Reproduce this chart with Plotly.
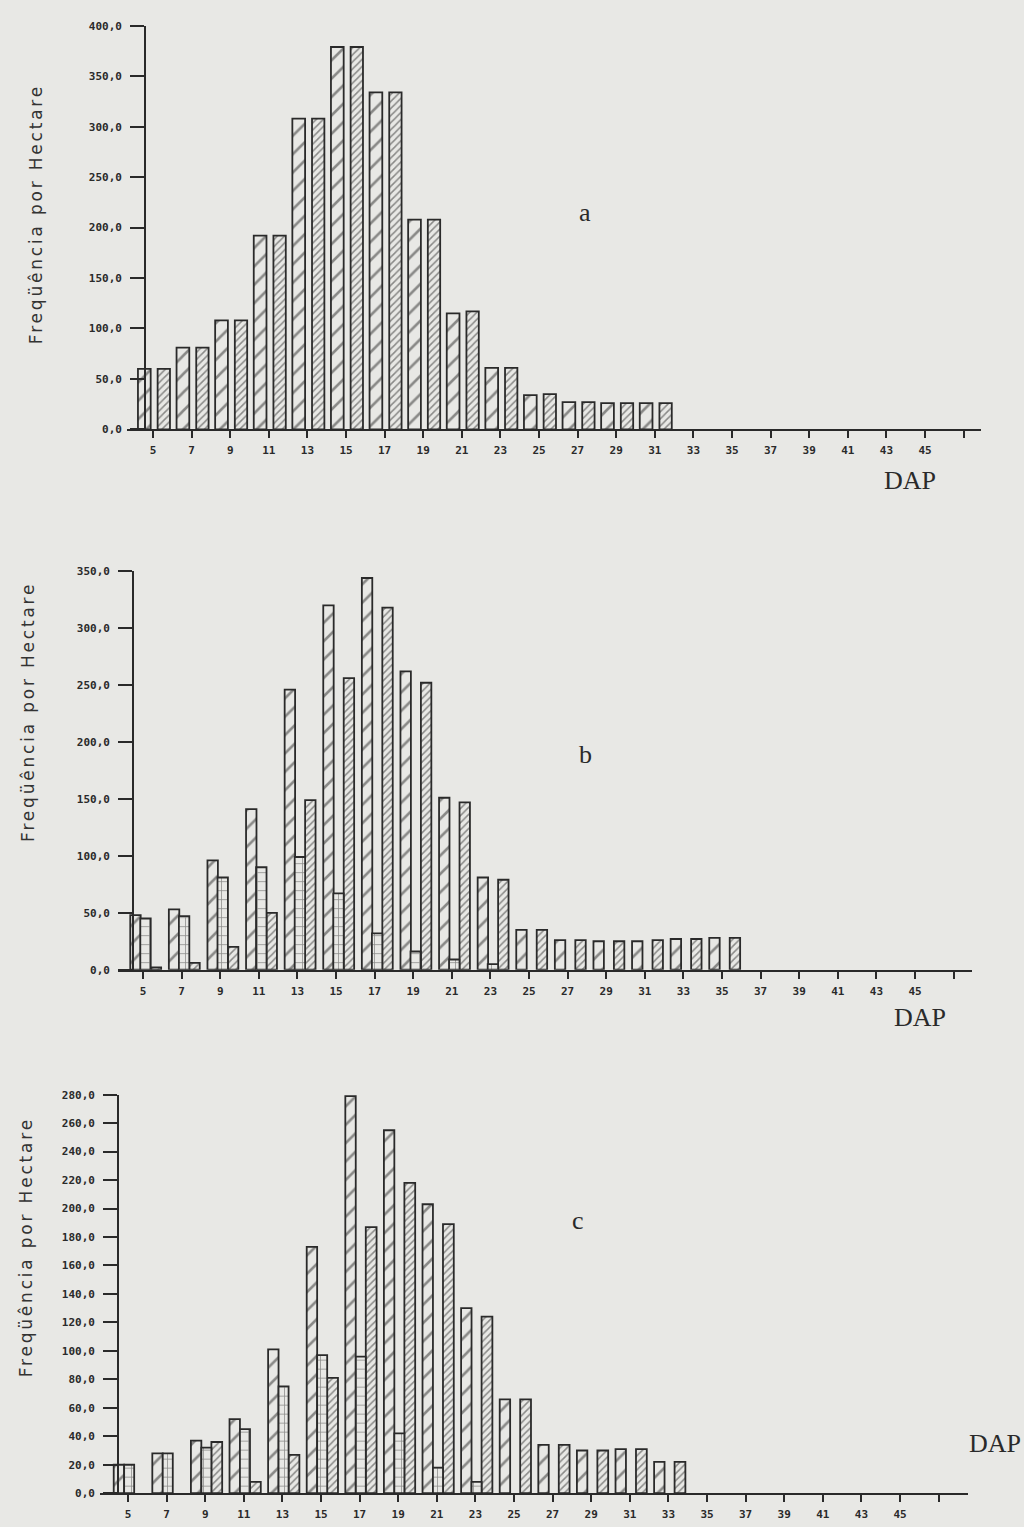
import plotly.graph_objects as go

# DAP classes (cm) shown on the horizontal axis
dap = [5, 7, 9, 11, 13, 15, 17, 19, 21, 23, 25, 27, 29, 31, 33, 35, 37, 39, 41, 43, 45]
dap_ticks = dap + [47]
dap_labels = [str(d) for d in dap] + [""]

# Panel a: frequency per hectare (two series)
a_s1 = [60, 81, 108, 192, 308, 379, 334, 208, 115, 61, 34, 27, 26, 26,
        None, None, None, None, None, None, None]
a_s3 = [60, 81, 108, 192, 308, 379, 334, 208, 117, 61, 35, 27, 26, 26,
        None, None, None, None, None, None, None]

# Panel b: frequency per hectare (three series)
b_s1 = [48, 53, 96, 141, 246, 320, 344, 262, 151, 81, 35, 26, 25, 25, 27, 28,
        None, None, None, None, None]
b_s2 = [45, 47, 81, 90, 99, 67, 32, 16, 9, 5, None, None, None, None, None, None,
        None, None, None, None, None]
b_s3 = [2, 6, 20, 50, 149, 256, 318, 252, 147, 79, 35, 26, 25, 26, 27, 28,
        None, None, None, None, None]

# Panel c: frequency per hectare (three series)
c_s1 = [20, 28, 37, 52, 101, 173, 279, 255, 203, 130, 66, 34, 30, 31, 22,
        None, None, None, None, None, None]
c_s2 = [20, 28, 32, 45, 75, 97, 96, 42, 18, 8, None, None, None, None, None,
        None, None, None, None, None, None]
c_s3 = [None, None, 36, 8, 27, 81, 187, 218, 189, 124, 66, 34, 30, 31, 22,
        None, None, None, None, None, None]

a_yticks = [0, 50, 100, 150, 200, 250, 300, 350, 400]
b_yticks = [0, 50, 100, 150, 200, 250, 300, 350]
c_yticks = list(range(0, 281, 20))


def fmt(v):
    return f"{v:.1f}".replace(".", ",")


W, H = 1024, 1527
PAPER = "#e8e8e5"
INK = "#2a2a2a"
TICKFONT = dict(family="DejaVu Sans Mono", size=11, color=INK, weight="bold")


def px(x):
    return x / W


def py(y):
    return 1 - y / H


fig = go.Figure()

# (xaxis id, yaxis id, x pixel span, y pixel span, y-axis pixel, first tick px, ymax, yticks)
panels = [
    ("x", "y", (127, 981), (427, 20), 145, 153, 400, a_yticks),
    ("x2", "y2", (118, 972), (972, 570), 133, 143, 350, b_yticks),
    ("x3", "y3", (100, 968), (1500, 1098), 118, 128, 280, c_yticks),
]
UNIT = 19.3  # pixels per DAP unit

series = [
    [(a_s1, -0.78, 0.66, "/", 13, 0.2), (a_s3, 0.24, 0.64, "/", 5, 0.3)],
    [(b_s1, -0.66, 0.54, "/", 13, 0.2), (b_s3, 0.40, 0.54, "/", 5, 0.3),
     (b_s2, -0.14, 0.54, "+", 9, 0.16)],
    [(c_s1, -0.74, 0.54, "/", 13, 0.2), (c_s3, 0.32, 0.56, "/", 5, 0.3),
     (c_s2, -0.20, 0.52, "+", 9, 0.16)],
]

layout = {}
for i, (xa, ya, (xl, xr), (yb, yt), yax_px, first_px, ymax, yt_vals) in enumerate(panels):
    x0 = 5 - (first_px - xl) / UNIT
    x1 = 5 + (xr - first_px) / UNIT
    for vals, off, wid, shape, size, sol in series[i]:
        fig.add_trace(go.Bar(
            x=dap, y=vals, xaxis=xa, yaxis=ya,
            offset=off, width=wid,
            marker=dict(
                color=PAPER,
                line=dict(color=INK, width=1.8),
                pattern=dict(shape=shape, size=size, solidity=sol,
                             fgcolor=INK, bgcolor=PAPER, fillmode="overlay"),
            ),
            showlegend=False, hoverinfo="skip",
        ))
    xkey = "xaxis" if xa == "x" else "xaxis" + xa[1:]
    ykey = "yaxis" if ya == "y" else "yaxis" + ya[1:]
    layout[xkey] = dict(
        domain=[px(xl), px(xr)], range=[x0, x1], anchor=ya,
        showline=True, linecolor=INK, linewidth=1.8,
        ticks="outside", ticklen=7, tickwidth=1.8, tickcolor=INK,
        tickvals=dap_ticks, ticktext=dap_labels, tickfont=TICKFONT,
        ticklabelstandoff=3,
        showgrid=False, zeroline=False, fixedrange=True,
    )
    layout[ykey] = dict(
        domain=[py(yb), py(yt)], range=[0, ymax], anchor="free",
        position=px(yax_px),
        showline=True, linecolor=INK, linewidth=1.8,
        ticks="outside", ticklen=14, tickwidth=1.8, tickcolor=INK,
        tickvals=yt_vals, ticktext=[fmt(v) for v in yt_vals], tickfont=TICKFONT,
        ticklabelstandoff=6,
        showgrid=False, zeroline=False, fixedrange=True,
    )

ytitle = "<span style='letter-spacing:2.8px'>Freqüência por Hectare</span>"
annotations = []
for (tx, ty) in [(36, 210), (28, 712), (26, 1252)]:
    annotations.append(dict(
        text=ytitle, x=px(tx), y=py(ty), xref="paper", yref="paper",
        showarrow=False, textangle=-90,
        font=dict(family="DejaVu Sans", size=17, color="#333333"),
        xanchor="center", yanchor="middle",
    ))
for (txt, tx, ty) in [("a", 585, 208), ("b", 585, 755), ("c", 578, 1225),
                      ("DAP", 910, 479), ("DAP", 920, 1020), ("DAP", 995, 1450)]:
    annotations.append(dict(
        text=txt, x=px(tx), y=py(ty), xref="paper", yref="paper",
        showarrow=False,
        font=dict(family="Liberation Serif", size=26, color="#2a2a2a"),
        xanchor="center", yanchor="middle",
    ))

fig.update_layout(
    width=W, height=H,
    margin=dict(l=0, r=0, t=0, b=0),
    paper_bgcolor=PAPER, plot_bgcolor="rgba(0,0,0,0)",
    barmode="overlay",
    annotations=annotations,
    **layout,
)

fig.write_html("out.html")
